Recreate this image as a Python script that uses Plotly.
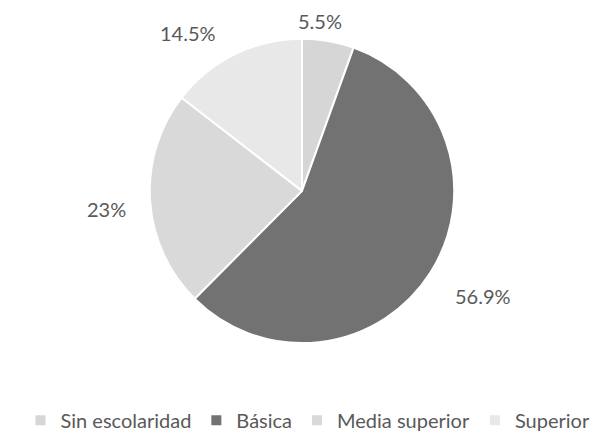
import math
import plotly.graph_objects as go

categories = ["Sin escolaridad", "Básica", "Media superior", "Superior"]
values = [5.5, 56.9, 23.0, 14.5]
label_text = ["5.5%", "56.9%", "23%", "14.5%"]

colors = ["#d6d6d6", "#727272", "#d9d9d9", "#e8e8e8"]

# page body has an 8px margin, so the figure is 600x432 inside the 608x440 window
W, H = 600, 432
cx, cy, R = 294, 185, 154

fig = go.Figure(go.Pie(
    labels=categories, values=values, sort=False, direction="clockwise",
    rotation=0, textinfo="none", hoverinfo="label+percent",
    marker=dict(colors=colors, line=dict(color="white", width=2)),
    domain=dict(x=[(cx - R) / W, (cx + R) / W], y=[(H - cy - R) / H, (H - cy + R) / H]),
))

# label placement: radial from slice mid-angle, with small nudges (style)
label_r = [173, 210, 196, 196]
angle_nudge = [-4.1, -2.0, -1.7, -9.5]
total = sum(values)
cum = 0
for v, t, r, dn in zip(values, label_text, label_r, angle_nudge):
    mid = (cum + v / 2) / total * 360 + dn
    cum += v
    a = math.radians(mid)
    px = cx + r * math.sin(a)
    py = cy - r * math.cos(a)
    fig.add_annotation(x=px / W, y=1 - py / H, xref="paper", yref="paper",
                       xanchor="center", yanchor="middle",
                       text=t, showarrow=False,
                       font=dict(size=20, color="#595959", family="Lato, Open Sans, sans-serif"))

fig.update_layout(
    width=W, height=H, margin=dict(l=0, r=0, t=0, b=0),
    paper_bgcolor="white", plot_bgcolor="white",
    showlegend=True,
    legend=dict(orientation="h", x=0.5, xanchor="center", y=1 - 417 / H, yanchor="middle",
                font=dict(size=20, color="#595959", family="Lato, Open Sans, sans-serif"),
                itemwidth=30),
)
fig.write_html("out.html")
